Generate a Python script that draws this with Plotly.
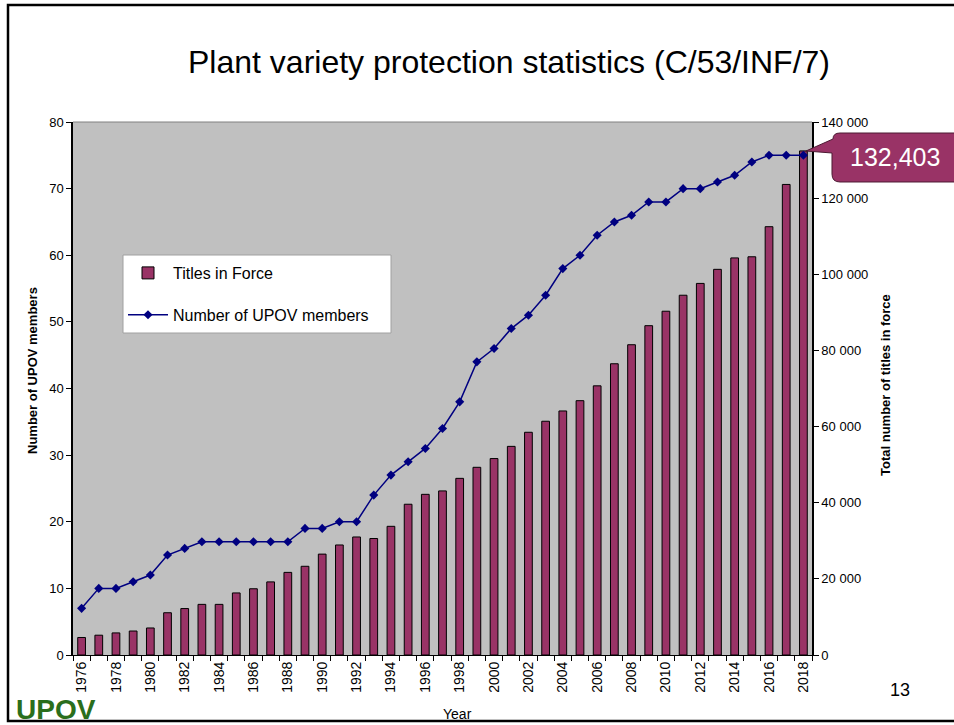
import plotly.graph_objects as go

years = list(range(1976, 2019))
members = [7, 10, 10, 11, 12, 15, 16, 17, 17, 17, 17, 17, 17, 19, 19, 20, 20, 24, 27, 29,
           31, 34, 38, 44, 46, 49, 51, 54, 58, 60, 63, 65, 66, 68, 68, 70, 70, 71, 72, 74,
           75, 75, 75]
titles = [4600, 5200, 5800, 6300, 7100, 11100, 12200, 13300, 13300, 16300, 17400, 19200,
          21700, 23300, 26500, 28900, 31000, 30600, 33800, 39600, 42200, 43100, 46400,
          49300, 51600, 54800, 58500, 61400, 64100, 66800, 70700, 76500, 81500, 86500,
          90300, 94500, 97600, 101300, 104300, 104600, 112500, 123600, 132403]
left_ticks = list(range(0, 81, 10))
right_ticks = list(range(0, 140001, 20000))
right_ticktext = ["0" if v == 0 else f"{v // 1000} 000" for v in right_ticks]
year_ticks = list(range(1976, 2019, 2))
callout_text = "132,403"

FONT = "Arial, Liberation Sans, sans-serif"
PLUM = "#993366"
NAVY = "#000080"

W, H = 954, 725
L, R, T, B = 73, 812, 122, 655


def px(x):
    return (x - L) / (R - L)


def py(y):
    return (B - y) / (B - T)


fig = go.Figure()
fig.add_trace(go.Bar(
    x=years, y=titles, name="Titles in Force", yaxis="y",
    marker=dict(color=PLUM, line=dict(color="black", width=1)),
    width=0.45, legendgroup="a",
))
fig.add_trace(go.Scatter(
    x=years, y=members, name="Number of UPOV members", yaxis="y2",
    mode="lines+markers", line=dict(color=NAVY, width=1.5),
    marker=dict(symbol="diamond", size=7, color=NAVY), legendgroup="b",
))


def P(x, y):
    return f"{px(x):.5f},{py(y):.5f}"


path = (f"M {P(840,133)} L {P(975,133)} L {P(975,182)} L {P(840,182)} "
        f"Q {P(832,182)} {P(832,174)} L {P(832,153)} L {P(806,151)} "
        f"L {P(833,139)} Q {P(833,133)} {P(840,133)} Z")

shapes = [
    dict(type="rect", xref="paper", yref="paper", x0=px(8), x1=px(980), y0=py(721), y1=py(5),
         line=dict(color="black", width=2.5), fillcolor="rgba(0,0,0,0)", layer="above"),
    dict(type="line", xref="paper", yref="paper", x0=0, x1=1, y0=1, y1=1,
         line=dict(color="#808080", width=1)),
    dict(type="path", xref="paper", yref="paper", path=path,
         fillcolor=PLUM, line=dict(color="#4d1a33", width=1), layer="above"),
    # legend box
    dict(type="rect", xref="paper", yref="paper", x0=px(123), x1=px(391), y0=py(333), y1=py(255),
         fillcolor="white", line=dict(color="#a0a0a0", width=1), layer="above"),
]

annotations = [
    dict(text="Plant variety protection statistics (C/53/INF/7)", xref="paper", yref="paper",
         x=px(509), y=py(62), showarrow=False, font=dict(family=FONT, size=32, color="black"),
         xanchor="center", yanchor="middle"),
    dict(text=callout_text, xref="paper", yref="paper", x=px(895), y=py(157), showarrow=False,
         font=dict(family=FONT, size=25, color="white"), xanchor="center", yanchor="middle"),
    dict(text="Year", xref="paper", yref="paper", x=px(457), y=py(714), showarrow=False,
         font=dict(family=FONT, size=14, color="black"), xanchor="center", yanchor="middle"),
    dict(text="13", xref="paper", yref="paper", x=px(900), y=py(690), showarrow=False,
         font=dict(family=FONT, size=18, color="black"), xanchor="center", yanchor="middle"),
    dict(text="<b>UPOV</b>", xref="paper", yref="paper", x=px(14), y=py(709), showarrow=False,
         font=dict(family=FONT, size=28, color="#2a6e1c"), xanchor="left", yanchor="middle"),
    dict(text="<b>Number of UPOV members</b>", xref="paper", yref="paper", x=px(32), y=py(371),
         showarrow=False, textangle=-90, font=dict(family=FONT, size=13, color="black"),
         xanchor="center", yanchor="middle"),
    dict(text="<b>Total number of titles in force</b>", xref="paper", yref="paper", x=px(885),
         y=py(385), showarrow=False, textangle=-90,
         font=dict(family=FONT, size=13, color="black"), xanchor="center", yanchor="middle"),
]

fig.update_layout(
    width=W, height=H,
    margin=dict(l=L, r=W - R, t=T, b=H - B, autoexpand=False),
    paper_bgcolor="white", plot_bgcolor="#C0C0C0",
    font=dict(family=FONT, size=13, color="black"),
    showlegend=True,
    legend=dict(x=px(123), y=py(256), xanchor="left", yanchor="top", bgcolor="rgba(0,0,0,0)",
                borderwidth=0, font=dict(family=FONT, size=16),
                tracegroupgap=18, itemwidth=40),
    xaxis=dict(range=[1975.5, 2018.5], tickvals=year_ticks, ticktext=[str(y) for y in year_ticks],
               tickangle=-90, ticks="", showgrid=False, zeroline=False, showline=True,
               linecolor="black", linewidth=1, tickfont=dict(size=14),
               minor=dict(ticks="outside", tick0=1975.5, dtick=1, ticklen=5,
                          tickcolor="black", showgrid=False)),
    yaxis=dict(range=[0, 140000], side="right", tickvals=right_ticks, ticktext=right_ticktext,
               ticks="outside", ticklen=5, tickcolor="black", showgrid=False, zeroline=False,
               showline=True, linecolor="black", linewidth=1.5, tickfont=dict(size=13)),
    yaxis2=dict(range=[0, 80], side="left", overlaying="y", tickvals=left_ticks,
                ticks="outside", ticklen=5, tickcolor="black", showgrid=False, zeroline=False,
                showline=True, linecolor="black", linewidth=1.5, tickfont=dict(size=13)),
    shapes=shapes, annotations=annotations,
    bargap=0.5,
)

fig.write_html("out.html", config={"displayModeBar": False},
               post_script="document.body.style.margin='0';document.body.style.overflow='hidden';")
